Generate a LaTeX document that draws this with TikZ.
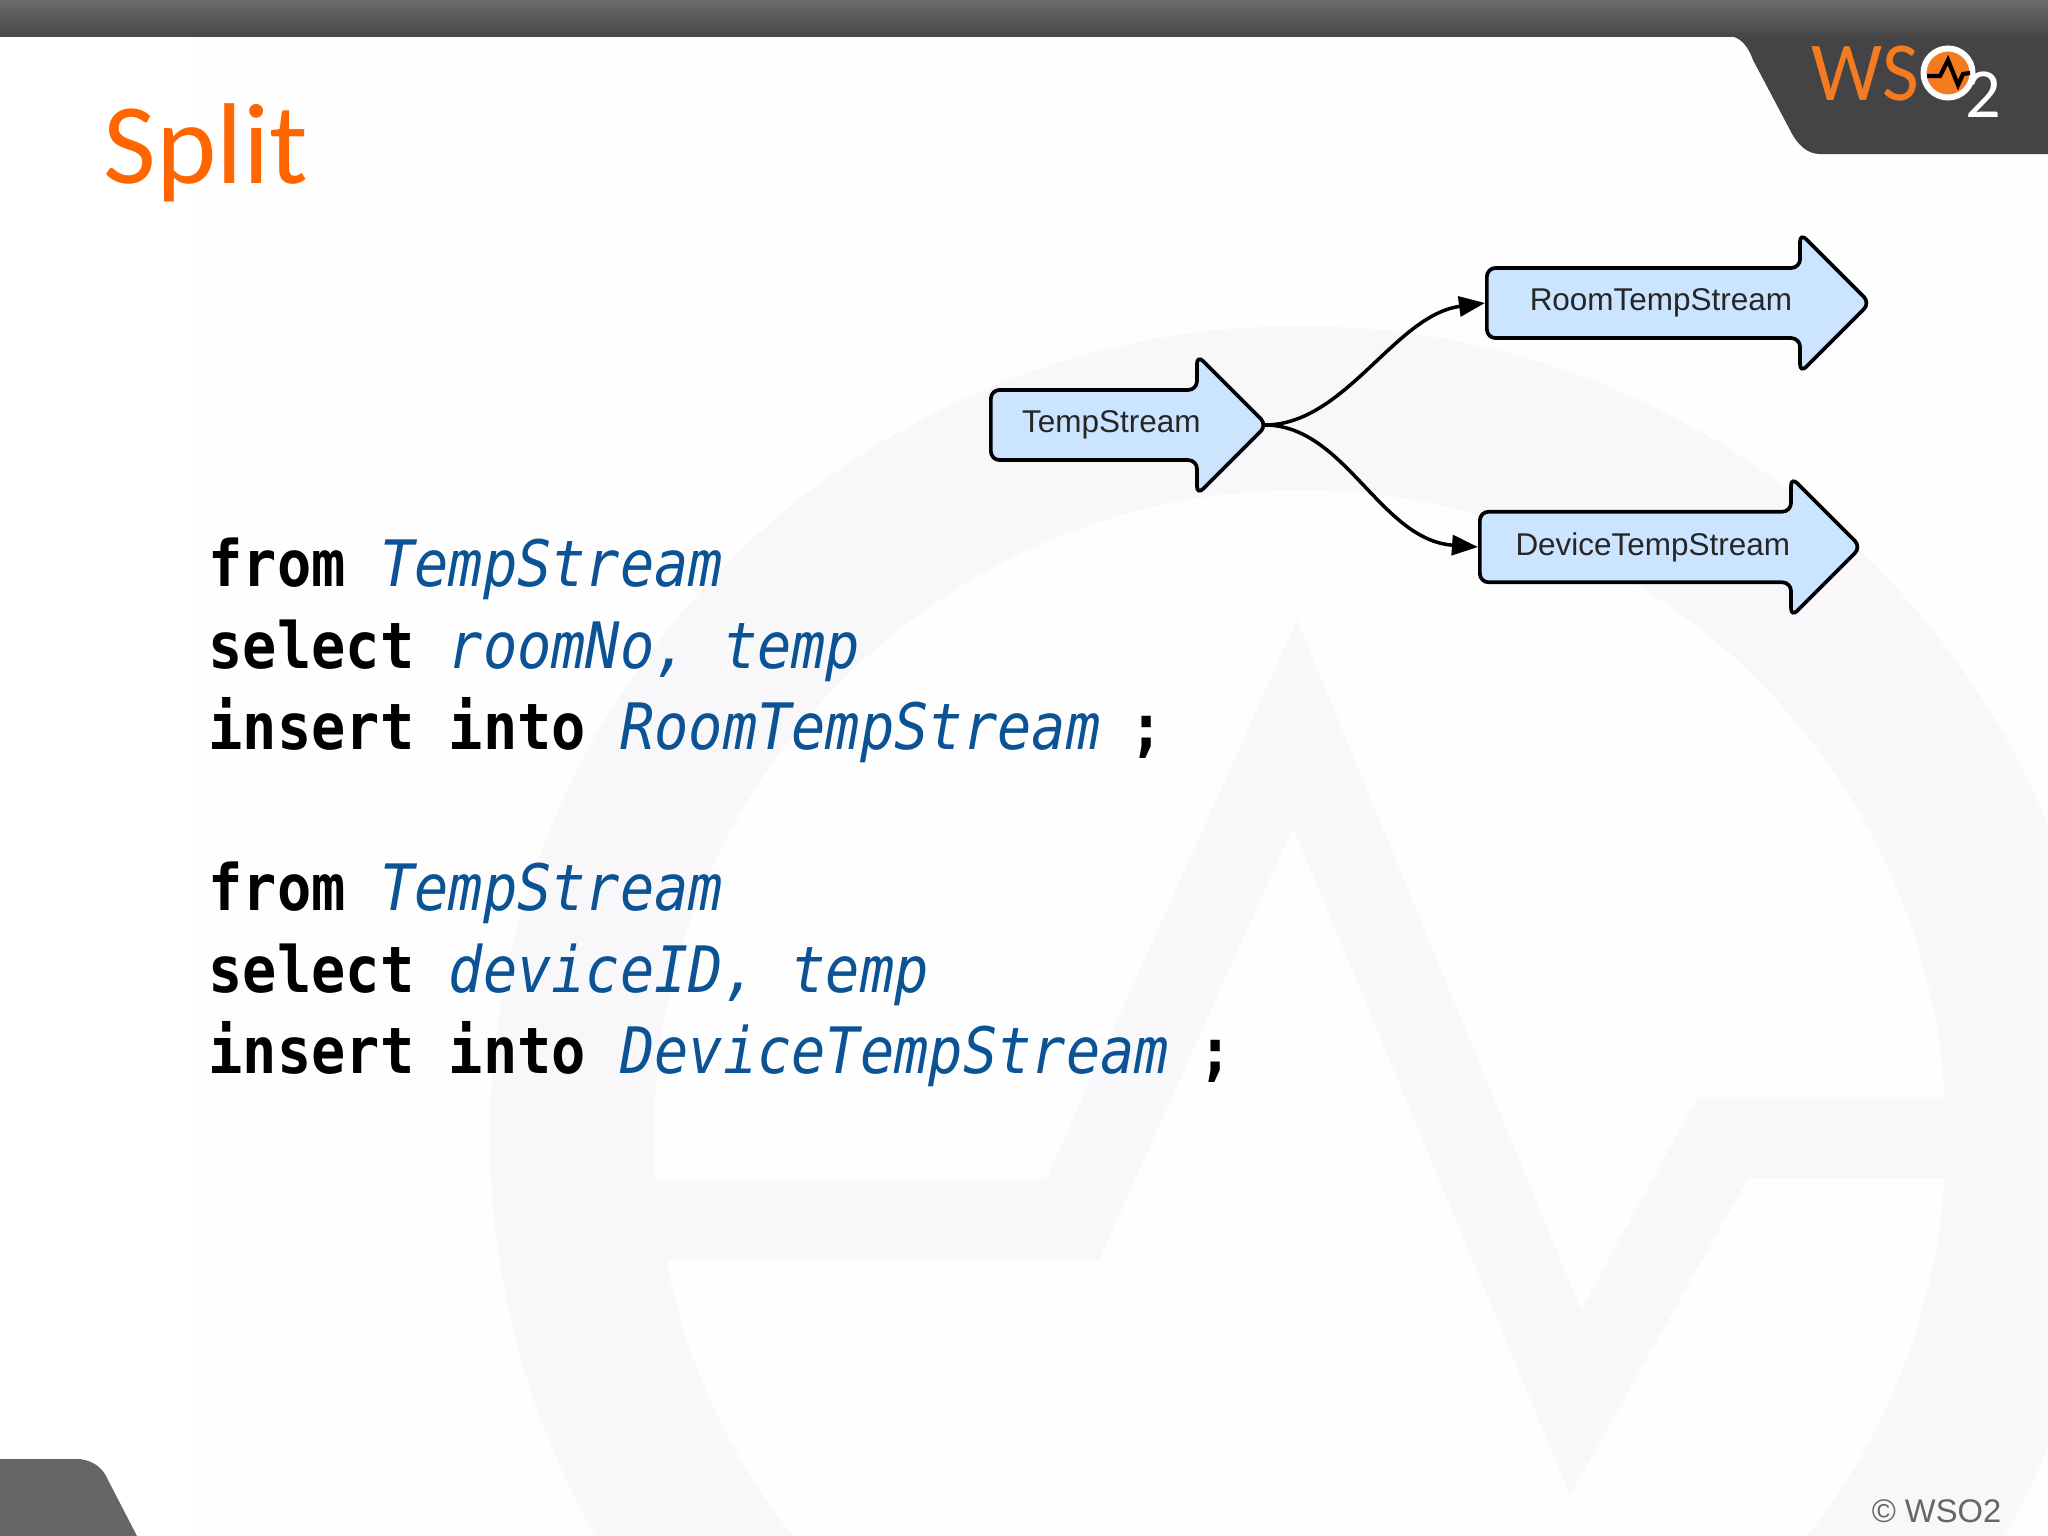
\documentclass[tikz,border=0pt]{standalone}
\usepackage{fontspec}
\usetikzlibrary{shapes.arrows,arrows.meta}
\newfontfamily\titlefont{Carlito}
\newfontfamily\logofont[FakeStretch=0.95]{Carlito}
\newfontfamily\labelfont{Liberation Sans}
\newfontfamily\codefont[FakeStretch=0.89]{DejaVu Sans Mono}
\definecolor{wmband}{HTML}{F8F7FA}
\definecolor{wmpage}{HTML}{FEFEFE}
\definecolor{logodark}{HTML}{444345}
\definecolor{wsoorange}{HTML}{FF6600}
\definecolor{logoorange}{HTML}{F47B20}
\definecolor{streamblue}{HTML}{CBE4FF}
\definecolor{codeblue}{HTML}{0B5394}
\newcommand{\kw}[1]{{\bfseries #1}}
\newcommand{\ident}[1]{{\itshape\color{codeblue}#1}}
\tikzset{
	codeline/.style={anchor=base west,inner sep=0pt,font=\codefont\fontsize{18.2}{22}\selectfont},
	streamarrow/.style={single arrow,draw=black,fill=streamblue,line width=1.05pt,rounded corners=2.5pt,
		single arrow head extend=0.32cm,single arrow tip angle=90,minimum width=1.4cm,anchor=tail,inner xsep=0pt,inner ysep=0.16cm,
		font=\labelfont\fontsize{8.95}{10}\selectfont,text=black!85},
	streamlink/.style={-{Triangle[length=2.6mm,width=2mm]},line width=1pt,shorten <=-0.05cm}
}
\begin{document}
\begin{tikzpicture}[x=0.01cm,y=-0.01cm]
	\useasboundingbox (0,0) rectangle (2048,1536);
	\clip (0,0) rectangle (2048,1536);
	% watermark
	\fill[wmpage] (195,36) rectangle (2048,1536);
	\fill[wmband,even odd rule] (1300,1136) circle[radius=810] (1300,1136) circle[radius=646];
	\fill[wmband] (650,1179) -- (1046,1179) -- (1297,620) -- (1581,1310) -- (1698,1097) -- (1950,1097) -- (1950,1178) -- (1748,1178) -- (1570,1495) -- (1293,827) -- (1099,1260) -- (650,1260) -- cycle;
	% header and footer
	\fill[logodark] (1728,36) .. controls (1740,36) and (1748,46) .. (1753,60) -- (1790,130) .. controls (1798,146) and (1808,154) .. (1820,154) -- (2048,154) -- (2048,30) -- (1728,30) -- cycle;
	\shade[top color=black!58,bottom color=black!72] (0,0) rectangle (2048,36);
	\fill[black!60] (0,1459) -- (80,1459) .. controls (94,1461) and (103,1468) .. (108,1480) -- (137,1536) -- (0,1536) -- cycle;
	% logo
	\node[anchor=base west,inner sep=0pt,text=logoorange,font=\logofont\fontsize{23.9}{26}\selectfont] (logows) at (1811,100) {WS};
	\node[circle,fill=logoorange,draw=white,line width=1.7pt,minimum size=0.49cm,inner sep=0pt] (logoo) at (1948,73) {};
	\draw[black,line width=1.2pt] (1927,76) -- (1940,76) -- (1948,60) -- (1958,85) -- (1963,74) -- (1970,73);
	\node[anchor=base west,inner sep=0pt,text=white,font=\titlefont\fontsize{20}{24}\selectfont] (logotwo) at (1965,117) {2};
	% title
	\node[anchor=base west,inner sep=0pt,text=wsoorange,font=\titlefont\fontsize{32.7}{36}\selectfont] (title) at (103,183) {Split};
	% code
	\node[codeline] (froma) at (208,586) {\kw{from} \ident{TempStream}};
	\node[codeline] (selecta) at (208,668) {\kw{select} \ident{roomNo, temp}};
	\node[codeline] (inserta) at (208,749) {\kw{insert into} \ident{RoomTempStream} \kw{\hspace{-0.05cm};}};
	\node[codeline] (fromb) at (208,910) {\kw{from} \ident{TempStream}};
	\node[codeline] (selectb) at (208,992) {\kw{select} \ident{deviceID, temp}};
	\node[codeline] (insertb) at (208,1073) {\kw{insert into} \ident{DeviceTempStream} \kw{\hspace{-0.05cm};}};
	% streams
	\node[streamarrow,minimum height=2.76cm] (temp) at (989,425) {TempStream};
	\node[streamarrow,minimum height=3.83cm] (room) at (1485,303) {RoomTempStream};
	\node[streamarrow,minimum height=3.81cm] (device) at (1478,547) {DeviceTempStream};
	\draw[streamlink] (temp.tip) .. controls (1345,425) and (1395,315) .. (room.tail);
	\draw[streamlink] (temp.tip) .. controls (1345,425) and (1380,540) .. (device.tail);
	% footer text
	\node[anchor=base east,inner sep=0pt,text=black!60,font=\labelfont\fontsize{9.3}{11}\selectfont] (copy) at (2002,1522) {© WSO2};
\end{tikzpicture}
\end{document}
